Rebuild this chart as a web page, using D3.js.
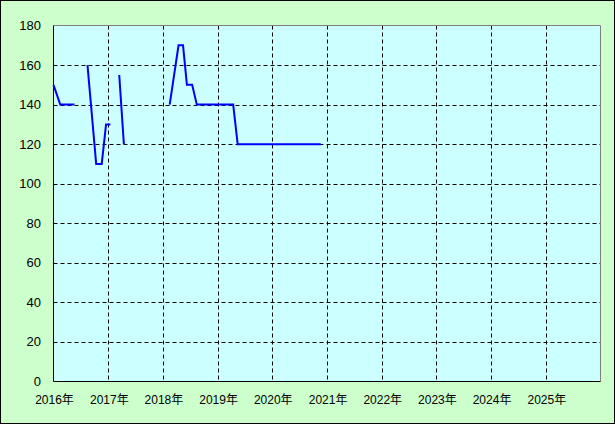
<!DOCTYPE html>
<html><head><meta charset="utf-8">
<script src="https://cdn.jsdelivr.net/npm/d3@7"></script>
<style>html,body{margin:0;padding:0;background:#ccffcc;}svg{display:block;}</style>
</head><body>
<svg id="c" width="615" height="424"></svg>
<script>
const dates = ["2016-01-01","2016-02-15","2016-05-20",null,
  "2016-08-15","2016-10-12","2016-11-18","2016-12-17","2017-01-15",null,
  "2017-03-15","2017-04-15",null,
  "2018-02-15","2018-04-15","2018-05-15","2018-06-10","2018-07-15","2018-08-15","2019-04-15","2019-05-15","2020-11-20"];
const values = [150,140,140,null,
  160,110,110,130,130,null,
  155,120,null,
  140,170,170,150,150,140,140,120,120];
const yTicks = [0,20,40,60,80,100,120,140,160,180];
const xYears = [2016,2017,2018,2019,2020,2021,2022,2023,2024,2025];
const xLabels = xYears.map(y => y + "年");

const svg = d3.select("#c");
const W = 615, H = 424;
const L = 53.5, R = 600.5, T = 25.5, B = 381.5;
svg.append("rect").attr("x",0.5).attr("y",0.5).attr("width",W-1).attr("height",H-1)
  .attr("fill","#ccffcc").attr("stroke","#000");
const parse = d3.timeParse("%Y-%m-%d");
const x = d3.scaleTime().domain([new Date(2016,0,1), new Date(2026,0,1)]).range([L,R]);
const y = d3.scaleLinear().domain([0,180]).range([B,T]);
svg.append("rect").attr("x",L).attr("y",T).attr("width",R-L).attr("height",B-T).attr("fill","#ccffff");
// grid
const g = svg.append("g").attr("stroke","#000").attr("stroke-dasharray","4,3").attr("stroke-width",1);
yTicks.filter(v=>v>0 && v<180).forEach(v=>{
  const yy = Math.round(y(v))+0.5;
  g.append("line").attr("x1",L).attr("x2",R).attr("y1",yy).attr("y2",yy);
});
xYears.filter(v=>v>2016).forEach(v=>{
  const xx = Math.round(x(new Date(v,0,1)))+0.5;
  g.append("line").attr("x1",xx).attr("x2",xx).attr("y1",T).attr("y2",B);
});
// border
svg.append("line").attr("x1",L).attr("x2",R).attr("y1",T).attr("y2",T).attr("stroke","#808080");
svg.append("line").attr("x1",R).attr("x2",R).attr("y1",T).attr("y2",B).attr("stroke","#808080");
svg.append("line").attr("x1",L).attr("x2",L).attr("y1",T).attr("y2",B).attr("stroke","#000");
svg.append("line").attr("x1",L).attr("x2",R).attr("y1",B).attr("y2",B).attr("stroke","#000");
// labels
const font = "'Liberation Sans','Noto Sans CJK JP',sans-serif";
yTicks.forEach(v=>{
  svg.append("text").attr("x",41).attr("y",y(v)).attr("dy","0.35em").attr("text-anchor","end")
    .attr("font-family",font).attr("font-size",13).attr("fill","#000").text(v);
});
xYears.forEach((v,i)=>{
  svg.append("text").attr("x",x(new Date(v,0,1))+1).attr("y",400).attr("dy","0.35em").attr("text-anchor","middle")
    .attr("font-family",font).attr("font-size",12).attr("fill","#000").text(xLabels[i]);
});
// line
const data = dates.map((d,i)=>({d: d?parse(d):null, v: values[i]}));
const line = d3.line().defined(p=>p.d && p.v!=null).x(p=>x(p.d)).y(p=>y(p.v));
svg.append("path").datum(data).attr("d",line).attr("fill","none").attr("stroke","#0000ff").attr("stroke-width",2);
</script>
</body></html>
